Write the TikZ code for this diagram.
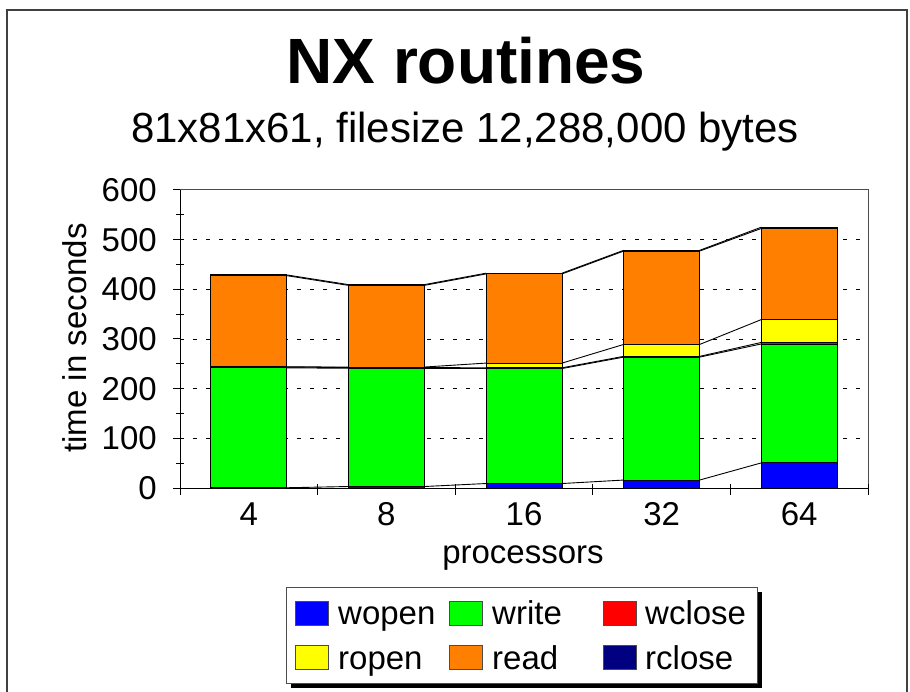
\documentclass[tikz,border=0pt]{standalone}
\usepackage{fontspec}
\setmainfont{Liberation Sans}
\definecolor{cwopen}{RGB}{0,0,255}
\definecolor{cwrite}{RGB}{0,255,0}
\definecolor{cwclose}{RGB}{255,0,0}
\definecolor{cropen}{RGB}{255,255,0}
\definecolor{cread}{RGB}{255,128,0}
\definecolor{crclose}{RGB}{0,0,128}
\colorlet{seg1}{cwopen}
\colorlet{seg2}{cwrite}
\colorlet{seg3}{cwclose}
\colorlet{seg4}{cropen}
\colorlet{seg5}{cread}
\colorlet{seg6}{crclose}
\tikzset{
  segment/.style={draw=black, line width=0.9pt},
  conn/.style={draw=black, line width=0.9pt},
  gridln/.style={draw=black, line width=0.9pt, dash pattern=on 3.5pt off 9.5pt},
  axisln/.style={draw=black, line width=1pt},
  framegray/.style={draw=black!70, line width=1pt},
  axlab/.style={font=\fontsize{33}{38}\selectfont, inner sep=0pt},
  swatch/.style={draw=black!70, line width=0.9pt},
  legtext/.style={font=\fontsize{33}{38}\selectfont, inner sep=0pt, anchor=base west}
}
\def\cum{{0,0.5,242,243.5,244,427.5,429, 0,3,241,242.5,243.5,408,409.5, 0,9,240.5,242,251.5,431,432.5, 0,16,263.5,265,289,477,478.5, 0,50.5,290,293,339,522.5,525}}
\begin{document}
\begin{tikzpicture}[x=1pt,y=-1pt]
\useasboundingbox (0,0) rectangle (910,692);
\fill[white] (0,0) rectangle (910,692);
% outer frame
\draw[draw=black!75, line width=1.2pt] (7,692) -- (7,10) -- (907,10) -- (907,692);
% titles
\node[font=\fontsize{64}{70}\bfseries\selectfont, anchor=base, inner sep=0pt] (title) at (466,84) {NX routines};
\node[font=\fontsize{42}{48}\selectfont, anchor=base, inner sep=0pt] (subtitle) at (465,143) {81x81x61, filesize 12,288,000 bytes};
% gridlines
\foreach \v in {100,200,300,400,500}{
  \pgfmathsetmacro\yy{488-\v*0.496667}
  \draw[gridln] (180,\yy) -- (868,\yy);
}
% plot frame top/right
\draw[framegray] (180,190) -- (868,190) -- (868,488);
% bars and series lines in data coordinates
\begin{scope}[shift={(180,488)}, x=1pt, y=0.496667pt]
\foreach \i in {0,...,3}{
  \pgfmathsetmacro\xr{106.8+137.6*\i}
  \pgfmathsetmacro\xl{\xr+61.6}
  \foreach \k in {1,...,6}{
    \pgfmathsetmacro\va{\cum[7*\i+\k]}
    \pgfmathsetmacro\vb{\cum[7*\i+7+\k]}
    \draw[conn] (\xr,\va) -- (\xl,\vb);
  }
}
\foreach \i in {0,...,4}{
  \pgfmathsetmacro\xa{30.8+137.6*\i}
  \pgfmathsetmacro\xb{\xa+76}
  \foreach \k in {1,...,6}{
    \pgfmathsetmacro\lo{\cum[7*\i+\k-1]}
    \pgfmathsetmacro\hi{\cum[7*\i+\k]}
    \filldraw[segment, fill=seg\k] (\xa,\lo) rectangle (\xb,\hi);
  }
}
\end{scope}
% axes
\draw[axisln] (180,190) -- (180,488) -- (868,488);
\foreach \v in {0,100,...,600}{
  \pgfmathsetmacro\yy{488-\v*0.496667}
  \draw[axisln] (173,\yy) -- (180,\yy);
  \node[axlab, anchor=east] (yl\v) at (157,\yy) {\v};
}
\foreach \v in {50,150,...,550}{
  \pgfmathsetmacro\yy{488-\v*0.496667}
  \draw[axisln] (176,\yy) -- (184,\yy);
}
\foreach \j in {0,...,5}{
  \pgfmathsetmacro\xx{180+137.6*\j}
  \draw[axisln] (\xx,484) -- (\xx,495);
}
\foreach \lab [count=\j from 0] in {4,8,16,32,64}{
  \pgfmathsetmacro\xx{248.8+137.6*\j}
  \node[axlab, anchor=base] (xl\j) at (\xx,525) {\lab};
}
\node[axlab, anchor=base] (xtitle) at (523,563) {processors};
\node[axlab, anchor=base, rotate=90] (ytitle) at (86,338) {time in seconds};
% legend
\fill[black] (291,592) rectangle (762,688);
\filldraw[fill=white, draw=black!70, line width=1pt] (286,587) rectangle (757,683);
\filldraw[swatch, fill=cwopen] (295,601) rectangle (328,625);
\node[legtext] (lwopen) at (338,624.5) {wopen};
\filldraw[swatch, fill=cwrite] (449,601) rectangle (482,625);
\node[legtext] (lwrite) at (492,624.5) {write};
\filldraw[swatch, fill=cwclose] (603,601) rectangle (636,625);
\node[legtext] (lwclose) at (645,624.5) {wclose};
\filldraw[swatch, fill=cropen] (295,645) rectangle (328,669);
\node[legtext] (lropen) at (338,669) {ropen};
\filldraw[swatch, fill=cread] (449,645) rectangle (482,669);
\node[legtext] (lread) at (492,669) {read};
\filldraw[swatch, fill=crclose] (603,645) rectangle (636,669);
\node[legtext] (lrclose) at (645,669) {rclose};
\end{tikzpicture}
\end{document}
